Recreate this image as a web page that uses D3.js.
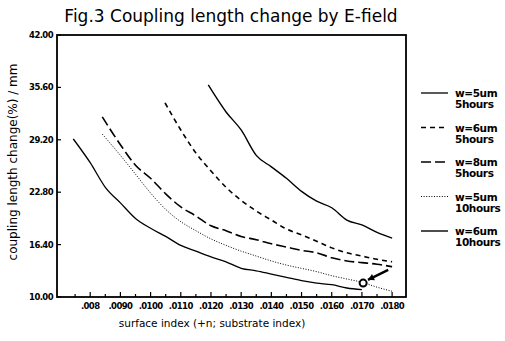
<!DOCTYPE html>
<html>
<head>
<meta charset="utf-8">
<script src="https://cdn.jsdelivr.net/npm/d3@7"></script>
<style>
  body { margin: 0; background: #fff; }
  svg { display: block; }
  text { font-family: "DejaVu Sans", sans-serif; fill: #000; }
  .tick-label { font-size: 8.5px; font-weight: bold; letter-spacing: -0.6px; }
  .legend-label { font-size: 10.5px; font-weight: bold; letter-spacing: -0.4px; }
</style>
</head>
<body>
<svg id="chart" width="505" height="341"></svg>
<script>
// values
const xTickLabels = [".008", ".0090", ".0100", ".0110", ".0120", ".0130", ".0140", ".0150", ".0160", ".0170", ".0180"];
const xTickValues = [0.008, 0.009, 0.010, 0.011, 0.012, 0.013, 0.014, 0.015, 0.016, 0.017, 0.018];
const yTickValues = [10.00, 16.40, 22.80, 29.20, 35.60, 42.00];

const legendNames = [["w=5um", "5hours"], ["w=6um", "5hours"], ["w=8um", "5hours"], ["w=5um", "10hours"], ["w=6um", "10hours"]];

const xW5h5 = [0.00744, 0.0080, 0.0085, 0.0090, 0.0095, 0.0100, 0.0105, 0.0110, 0.0115, 0.0120, 0.0125, 0.0130, 0.0135, 0.0140, 0.0145, 0.0150, 0.0155, 0.0160, 0.0165, 0.0170];
const yW5h5 = [29.3, 26.4, 23.4, 21.5, 19.6, 18.4, 17.4, 16.3, 15.6, 14.9, 14.3, 13.5, 13.2, 12.8, 12.4, 12.0, 11.7, 11.5, 11.1, 10.9];

const xW6h5 = [0.01048, 0.0110, 0.0115, 0.0120, 0.0125, 0.0130, 0.0135, 0.0140, 0.0145, 0.0150, 0.0155, 0.0160, 0.0165, 0.0170, 0.0175, 0.0180];
const yW6h5 = [33.7, 30.4, 27.6, 25.4, 23.4, 21.8, 20.5, 19.4, 18.3, 17.6, 16.8, 16.0, 15.4, 15.0, 14.6, 14.3];

const xW8h5 = [0.0084, 0.0090, 0.0095, 0.0100, 0.0105, 0.0110, 0.0115, 0.0120, 0.0125, 0.0130, 0.0135, 0.0140, 0.0145, 0.0150, 0.0155, 0.0160, 0.0165, 0.0170, 0.0175, 0.0180];
const yW8h5 = [32.0, 28.6, 26.1, 24.5, 22.6, 21.0, 19.9, 18.7, 18.1, 17.4, 17.0, 16.5, 16.1, 15.7, 15.4, 14.8, 14.4, 14.2, 14.0, 13.7];

const xW5h10 = [0.0084, 0.0090, 0.0095, 0.0100, 0.0105, 0.0110, 0.0115, 0.0120, 0.0125, 0.0130, 0.0135, 0.0140, 0.0145, 0.0150, 0.0155, 0.0160, 0.0165, 0.0170, 0.0175, 0.0180];
const yW5h10 = [29.9, 27.3, 25.0, 22.7, 20.7, 19.2, 18.1, 17.1, 16.3, 15.6, 15.0, 14.4, 13.9, 13.5, 13.1, 12.6, 12.2, 11.8, 11.2, 10.7];

const xW6h10 = [0.01191, 0.0125, 0.0130, 0.0135, 0.0140, 0.0145, 0.0150, 0.0155, 0.0160, 0.0165, 0.0170, 0.0175, 0.0180];
const yW6h10 = [35.9, 32.6, 30.4, 27.3, 25.9, 24.5, 22.9, 21.7, 20.9, 19.4, 18.8, 17.9, 17.2];

// marked point and arrow pointing at it
const markPoint = [0.01704, 11.7];
const arrowFrom = [0.01787, 13.3];
const arrowTo = [0.0172, 12.1];

const seriesX = [xW5h5, xW6h5, xW8h5, xW5h10, xW6h10];
const seriesY = [yW5h5, yW6h5, yW8h5, yW5h10, yW6h10];
const dashes = [null, "5,4", "10,4", "1,1.6", null];
const widths = [1.3, 1.6, 1.6, 1, 1.4];

const svg = d3.select("#chart");
const m = { left: 57, right: 406, top: 35, bottom: 297 };

const x = d3.scaleLinear().domain([0.0069, 0.01846]).range([m.left, m.right]);
const y = d3.scaleLinear().domain([10, 42]).range([m.bottom, m.top]);

// title
svg.append("text")
    .attr("x", 231).attr("y", 22)
    .attr("text-anchor", "middle")
    .style("font-size", "17px")
    .text("Fig.3  Coupling length change by E-field");

// frame
svg.append("rect")
    .attr("x", m.left).attr("y", m.top)
    .attr("width", m.right - m.left).attr("height", m.bottom - m.top)
    .attr("fill", "none").attr("stroke", "#000").attr("stroke-width", 1.8);

// x ticks: majors labelled, halves unlabelled, pointing into the plot
const minor = d3.range(0.0075, 0.01801, 0.0005);
svg.append("g").selectAll("line").data(minor).join("line")
    .attr("x1", d => x(d)).attr("x2", d => x(d))
    .attr("y1", m.bottom).attr("y2", (d, i) => m.bottom - (i % 2 ? 5 : 3))
    .attr("stroke", "#000").attr("stroke-width", 1.2);

svg.append("g").selectAll("text").data(xTickValues).join("text")
    .attr("class", "tick-label")
    .attr("x", d => x(d)).attr("y", 309)
    .attr("text-anchor", "middle")
    .text((d, i) => xTickLabels[i]);

// y ticks
svg.append("g").selectAll("line").data(yTickValues).join("line")
    .attr("x1", m.left).attr("x2", m.left + 4)
    .attr("y1", d => y(d)).attr("y2", d => y(d))
    .attr("stroke", "#000").attr("stroke-width", 1.2);

svg.append("g").selectAll("text").data(yTickValues).join("text")
    .attr("class", "tick-label")
    .attr("x", 53).attr("y", d => y(d) + 3)
    .attr("text-anchor", "end")
    .text(d => d.toFixed(2));

// axis titles
svg.append("text")
    .attr("transform", "translate(17,162) rotate(-90)")
    .attr("text-anchor", "middle")
    .style("font-size", "12px")
    .text("coupling length change(%) / mm");

svg.append("text")
    .attr("x", 212).attr("y", 327)
    .attr("text-anchor", "middle")
    .style("font-size", "10.5px")
    .text("surface index (+n; substrate index)");

// curves
const line = d3.line().x(d => x(d[0])).y(d => y(d[1])).curve(d3.curveMonotoneX);
seriesX.forEach((xs, i) => {
    const pts = xs.map((v, j) => [v, seriesY[i][j]]);
    svg.append("path")
        .attr("d", line(pts))
        .attr("fill", "none")
        .attr("stroke", "#000")
        .attr("stroke-width", widths[i])
        .attr("stroke-dasharray", dashes[i]);
});

// marked point + arrow
svg.append("circle")
    .attr("cx", x(markPoint[0])).attr("cy", y(markPoint[1])).attr("r", 3.5)
    .attr("fill", "#fff").attr("stroke", "#000").attr("stroke-width", 2);

const ax1 = x(arrowFrom[0]), ay1 = y(arrowFrom[1]);
const ax2 = x(arrowTo[0]), ay2 = y(arrowTo[1]);
svg.append("line")
    .attr("x1", ax1).attr("y1", ay1).attr("x2", ax2).attr("y2", ay2)
    .attr("stroke", "#000").attr("stroke-width", 2.5);
const ang = Math.atan2(ay2 - ay1, ax2 - ax1);
const head = [[ax2, ay2],
    [ax2 - 7 * Math.cos(ang - 0.5), ay2 - 7 * Math.sin(ang - 0.5)],
    [ax2 - 7 * Math.cos(ang + 0.5), ay2 - 7 * Math.sin(ang + 0.5)]];
svg.append("path").attr("d", d3.line()(head) + "Z").attr("fill", "#000");

// legend
const lg = svg.append("g").attr("transform", "translate(421,93)");
legendNames.forEach((names, i) => {
    const g = lg.append("g").attr("transform", `translate(0,${i * 34.5})`);
    g.append("line")
        .attr("x1", 0).attr("x2", 27).attr("y1", 0).attr("y2", 0)
        .attr("stroke", "#000").attr("stroke-width", widths[i])
        .attr("stroke-dasharray", dashes[i]);
    g.append("text").attr("class", "legend-label").attr("x", 34).attr("y", 4).text(names[0]);
    g.append("text").attr("class", "legend-label").attr("x", 34).attr("y", 15).text(names[1]);
});
</script>
</body>
</html>
